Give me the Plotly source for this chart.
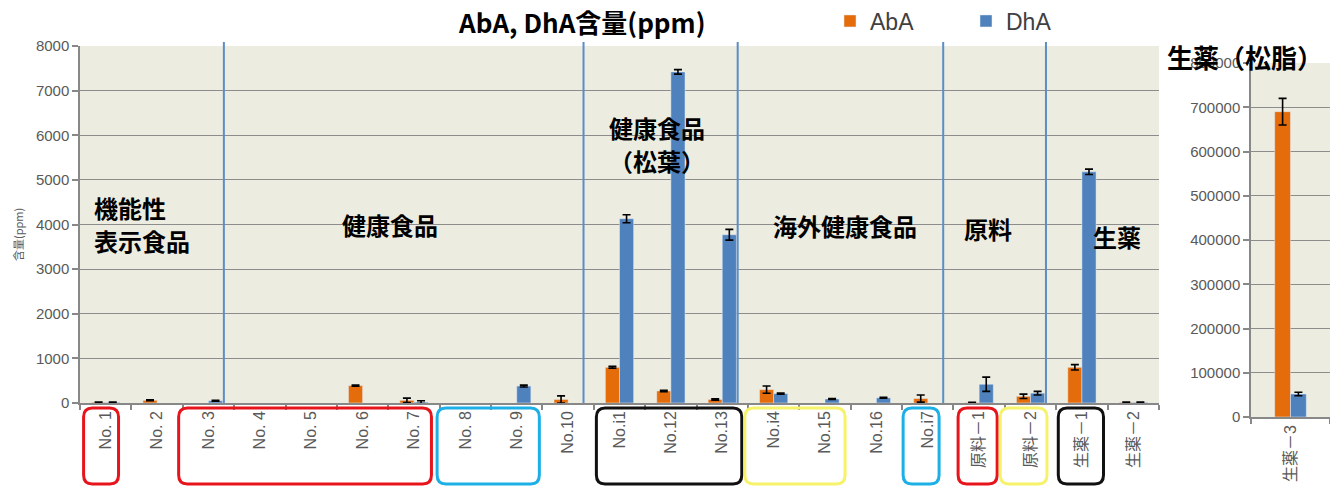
import plotly.graph_objects as go

# ---------------- data ----------------
categories = ["No. 1", "No. 2", "No. 3", "No. 4", "No. 5", "No. 6", "No. 7", "No. 8", "No. 9",
              "No.10", "No.i1", "No.12", "No.13", "No.i4", "No.15", "No.16", "No.i7",
              "原料－1", "原料－2", "生薬－1", "生薬－2"]
# None = not detected (no bar drawn)
aba_values = [15, 60, None, None, None, 390, 60, None, None, 80, 800, 270, 80, 300, None, None, 100, 10, 150, 800, 15]
aba_errors = [5, 10, 0, 0, 0, 15, 50, 0, 0, 80, 20, 15, 15, 80, 0, 0, 80, 5, 50, 60, 5]
dha_values = [15, None, 50, None, None, None, 20, None, 380, None, 4130, 7420, 3770, 210, 90, 115, None, 420, 220, 5180, 15]
dha_errors = [5, 0, 10, 0, 0, 0, 30, 0, 20, 0, 90, 50, 120, 15, 10, 10, 0, 160, 40, 60, 5]

resin_categories = ["生薬－3"]
resin_aba = [690000]
resin_aba_err = [30000]
resin_dha = [52000]
resin_dha_err = [4000]

ORANGE = "#E46C0A"
BLUE = "#4F81BD"
GRID = "#8C8C8C"
TXT = "#595959"
BG = "#ECEDE0"
LATIN = "Liberation Sans, Arial, Noto Sans CJK JP"
CJK = "Noto Sans CJK JP"

W, H = 1330, 489
ML, MT, MB = 80, 46, 72
PW = W - ML
PH = H - MT - MB


def px_x(p):
    return (p - ML) / PW


def px_y(p):
    return (H - MB - p) / PH


fig = go.Figure()
err_style = dict(type="data", color="black", thickness=1.6, width=4, visible=True)

fig.add_trace(go.Bar(name="AbA", x=categories, y=aba_values, marker_color=ORANGE,
                     error_y=dict(array=aba_errors, **err_style), xaxis="x", yaxis="y"))
fig.add_trace(go.Bar(name="DhA", x=categories, y=dha_values, marker_color=BLUE,
                     error_y=dict(array=dha_errors, **err_style), xaxis="x", yaxis="y"))
fig.add_trace(go.Bar(name="AbA", x=resin_categories, y=resin_aba, marker_color=ORANGE,
                     width=0.2, offset=-0.2, showlegend=False,
                     error_y=dict(array=resin_aba_err, **err_style), xaxis="x2", yaxis="y2"))
fig.add_trace(go.Bar(name="DhA", x=resin_categories, y=resin_dha, marker_color=BLUE,
                     width=0.2, offset=0.0, showlegend=False,
                     error_y=dict(array=resin_dha_err, **err_style), xaxis="x2", yaxis="y2"))

axis_common = dict(showline=True, linecolor="#888888", linewidth=1.5, ticks="outside",
                   tickcolor="#888888", tickwidth=1.5)
main_bottom = px_y(403)
fig.update_layout(
    width=W, height=H,
    margin=dict(l=ML, r=0, t=MT, b=MB, autoexpand=False),
    paper_bgcolor="white", plot_bgcolor=BG,
    barmode="group", bargap=0.45, bargroupgap=0,
    xaxis=dict(domain=[0, px_x(1159)], anchor="y", type="category", tickson="boundaries",
               ticklen=5, tickangle=-90, tickfont=dict(size=16, color=TXT, family=LATIN),
               showgrid=False, automargin=False, **axis_common),
    yaxis=dict(domain=[main_bottom, 1], anchor="x", range=[0, 8000], dtick=1000, tickformat="d",
               ticklen=6, tickfont=dict(size=15, color=TXT, family=LATIN), automargin=False,
               showgrid=True, gridcolor=GRID, gridwidth=1.4, zeroline=False, **axis_common),
    xaxis2=dict(domain=[px_x(1251), 1], anchor="y2", type="category", tickson="boundaries",
                ticklen=5, tickangle=-90, tickfont=dict(size=16, color=TXT, family=LATIN),
                showgrid=False, automargin=False, **axis_common),
    yaxis2=dict(domain=[0, px_y(63)], anchor="x2", range=[0, 800000], dtick=100000, tickformat="d",
                ticklen=6, tickfont=dict(size=15, color=TXT, family=LATIN), automargin=False,
                showgrid=True, gridcolor=GRID, gridwidth=1.4, zeroline=False, **axis_common),
    legend=dict(orientation="h", x=px_x(830), y=px_y(21), xanchor="left", yanchor="middle",
                font=dict(size=23, color="#404040", family="Liberation Sans Narrow, Arial Narrow, Liberation Sans"),
                bgcolor="rgba(0,0,0,0)", entrywidth=91, itemclick=False),
    showlegend=True,
)

# ---- group separator lines (drawn just right of a category centre) ----
separator_after = ["No. 3", "No.10", "No.13", "No.i7", "原料－2"]
for name in separator_after:
    xi = categories.index(name) + 0.3
    fig.add_shape(type="line", xref="x", yref="paper", x0=xi, x1=xi,
                  y0=main_bottom, y1=px_y(42), line=dict(color="#5B8DC6", width=2))

# ---- rounded label boxes under the axis ----
boxes = [(-0.43, 0.25, "#E8141C"), (1.42, 6.34, "#E8141C"), (6.45, 8.44, "#1CB0E6"),
         (9.55, 12.38, "#111111"), (12.44, 14.39, "#F6F36A"), (15.52, 16.22, "#1CB0E6"),
         (16.59, 17.35, "#E8141C"), (17.41, 18.32, "#F6F36A"), (18.54, 19.42, "#111111")]
y_top, y_bot = px_y(408), px_y(484)
rx, ry = 0.17, 9 / PH
for x0, x1, col in boxes:
    path = (f"M {x0+rx},{y_top} L {x1-rx},{y_top} Q {x1},{y_top} {x1},{y_top-ry} "
            f"L {x1},{y_bot+ry} Q {x1},{y_bot} {x1-rx},{y_bot} L {x0+rx},{y_bot} "
            f"Q {x0},{y_bot} {x0},{y_bot+ry} L {x0},{y_top-ry} Q {x0},{y_top} {x0+rx},{y_top} Z")
    fig.add_shape(type="path", path=path, xref="x", yref="paper",
                  line=dict(color=col, width=3), layer="above")

# ---- text annotations ----
def bold_label(text, xp, yp, size=25, anchor="center"):
    fig.add_annotation(text=f"<b>{text}</b>", x=px_x(xp), y=px_y(yp), xref="paper", yref="paper",
                       showarrow=False, xanchor=anchor, yanchor="middle",
                       font=dict(size=size, color="black", family=CJK))

bold_label("AbA, DhA含量(ppm)", 582, 21, size=26)
bold_label("機能性", 92, 207, size=24, anchor="left")
bold_label("表示食品", 92, 240, size=24, anchor="left")
bold_label("健康食品", 390, 224, size=24)
bold_label("健康食品", 657, 127, size=24)
bold_label("（松葉）", 657, 160, size=24)
bold_label("海外健康食品", 845, 225, size=24)
bold_label("原料", 988, 228, size=24)
bold_label("生薬", 1117, 236, size=24)
bold_label("生薬（松脂）", 1245, 57, size=26)

fig.add_annotation(text="含量(ppm)", x=px_x(18), y=px_y(235), xref="paper", yref="paper",
                   showarrow=False, textangle=-90, xanchor="center", yanchor="middle",
                   font=dict(size=11, color=TXT, family=CJK))

fig.write_html("out.html", config={"displayModeBar": False},
               post_script="document.body.style.margin='0';document.body.style.overflow='hidden';")
